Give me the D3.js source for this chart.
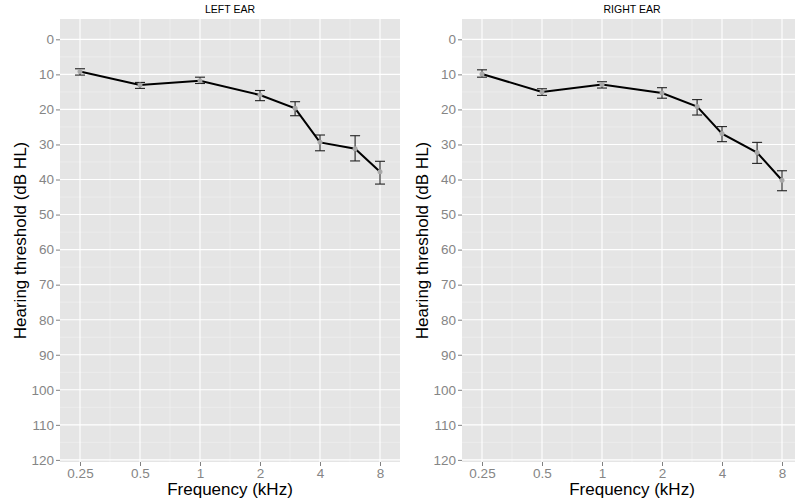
<!DOCTYPE html>
<html>
<head>
<meta charset="utf-8">
<script src="https://cdn.jsdelivr.net/npm/d3@7"></script>
<style>
  body { margin: 0; background: #fff; }
  svg { display: block; font-family: "Liberation Sans", Arial, sans-serif; }
</style>
</head>
<body>
<div id="chart"></div>
<script>
// frequencies (kHz)
const FREQS = [0.25, 0.5, 1, 2, 3, 4, 6, 8];
const X_TICKS = [0.25, 0.5, 1, 2, 4, 8];
const Y_TICKS = d3.range(0, 121, 10);

// left ear: mean threshold and error bar limits (dB HL)
const leftMean = [9.2, 13.0, 11.8, 15.9, 19.7, 29.4, 31.2, 37.8];
const leftLow  = [8.4, 12.3, 10.8, 14.6, 17.8, 27.3, 27.5, 34.8];
const leftHigh = [10.2, 14.0, 12.6, 17.5, 21.8, 31.8, 34.7, 41.3];

// right ear
const rightMean = [9.9, 15.0, 12.9, 15.3, 19.2, 26.9, 32.3, 40.2];
const rightLow  = [8.7, 14.1, 12.1, 13.8, 17.2, 24.9, 29.4, 37.5];
const rightHigh = [10.8, 16.0, 13.9, 16.8, 21.6, 29.2, 35.4, 43.2];

const W = 795, H = 503;
const panelW = 340, panelTop = 19, panelBottom = 462;

const svg = d3.select("#chart").append("svg")
  .attr("width", W)
  .attr("height", H);

const y = d3.scaleLinear().domain([-5.8, 120.6]).range([panelTop, panelBottom]);

function drawPanel(left, title, mean, low, high) {
  const x = d3.scaleLog().base(2)
    .domain([0.25 * Math.pow(2, -1 / 3), 8 * Math.pow(2, 1 / 3)])
    .range([left, left + panelW]);

  const data = FREQS.map((f, i) => ({ f, m: mean[i], lo: low[i], hi: high[i] }));

  const g = svg.append("g");

  // panel background
  g.append("rect")
    .attr("x", left).attr("y", panelTop)
    .attr("width", panelW).attr("height", panelBottom - panelTop)
    .attr("fill", "#e5e5e5");

  // minor grid
  const xMinor = d3.pairs(X_TICKS).map(([a, b]) => Math.sqrt(a * b));
  const yMinor = d3.range(5, 120, 10);
  g.selectAll(".xminor").data(xMinor).enter().append("line")
    .attr("x1", d => x(d)).attr("x2", d => x(d))
    .attr("y1", panelTop).attr("y2", panelBottom)
    .attr("stroke", "#f2f2f2").attr("stroke-width", 0.6);
  g.selectAll(".yminor").data(yMinor).enter().append("line")
    .attr("x1", left).attr("x2", left + panelW)
    .attr("y1", d => y(d)).attr("y2", d => y(d))
    .attr("stroke", "#f2f2f2").attr("stroke-width", 0.6);

  // major grid
  g.selectAll(".xmajor").data(X_TICKS).enter().append("line")
    .attr("x1", d => x(d)).attr("x2", d => x(d))
    .attr("y1", panelTop).attr("y2", panelBottom)
    .attr("stroke", "#fff").attr("stroke-width", 1.1);
  g.selectAll(".ymajor").data(Y_TICKS).enter().append("line")
    .attr("x1", left).attr("x2", left + panelW)
    .attr("y1", d => y(d)).attr("y2", d => y(d))
    .attr("stroke", "#fff").attr("stroke-width", 1.1);

  // axes
  const xAxis = g.append("g")
    .attr("transform", `translate(0,${panelBottom})`)
    .call(d3.axisBottom(x).tickValues(X_TICKS).tickFormat(d => d).tickSize(4).tickPadding(2));
  const yAxis = g.append("g")
    .attr("transform", `translate(${left},0)`)
    .call(d3.axisLeft(y).tickValues(Y_TICKS).tickSize(4).tickPadding(2));
  [xAxis, yAxis].forEach(a => {
    a.select(".domain").remove();
    a.selectAll("line").attr("stroke", "#808080");
    a.selectAll("text")
      .attr("fill", "#858585")
      .style("font-size", "13.5px")
      .style("font-family", "Liberation Sans, Arial, sans-serif");
  });

  // error bars
  const cap = 5;
  const eb = g.selectAll(".eb").data(data).enter().append("g")
    .attr("stroke", "#222").attr("stroke-width", 1.1).attr("fill", "none");
  eb.append("line")
    .attr("x1", d => x(d.f)).attr("x2", d => x(d.f))
    .attr("y1", d => y(d.lo)).attr("y2", d => y(d.hi));
  eb.append("line")
    .attr("x1", d => x(d.f) - cap).attr("x2", d => x(d.f) + cap)
    .attr("y1", d => y(d.lo)).attr("y2", d => y(d.lo));
  eb.append("line")
    .attr("x1", d => x(d.f) - cap).attr("x2", d => x(d.f) + cap)
    .attr("y1", d => y(d.hi)).attr("y2", d => y(d.hi));

  // mean line
  g.append("path")
    .datum(data)
    .attr("fill", "none")
    .attr("stroke", "#000")
    .attr("stroke-width", 2)
    .attr("d", d3.line().x(d => x(d.f)).y(d => y(d.m)));

  // points
  g.selectAll(".pt").data(data).enter().append("circle")
    .attr("cx", d => x(d.f)).attr("cy", d => y(d.m))
    .attr("r", 2.5).attr("fill", "#a8a8a8");

  // title
  g.append("text")
    .attr("x", left + panelW / 2).attr("y", 13)
    .attr("text-anchor", "middle")
    .style("font-size", "10.5px")
    .attr("fill", "#000")
    .text(title);

  // axis titles
  g.append("text")
    .attr("x", left + panelW / 2).attr("y", 495)
    .attr("text-anchor", "middle")
    .style("font-size", "17px")
    .text("Frequency (kHz)");
  g.append("text")
    .attr("transform", `translate(${left - 34},${(panelTop + panelBottom) / 2}) rotate(-90)`)
    .attr("text-anchor", "middle")
    .style("font-size", "17px")
    .text("Hearing threshold (dB HL)");
}

drawPanel(60, "LEFT EAR", leftMean, leftLow, leftHigh);
drawPanel(462, "RIGHT EAR", rightMean, rightLow, rightHigh);
</script>
</body>
</html>
